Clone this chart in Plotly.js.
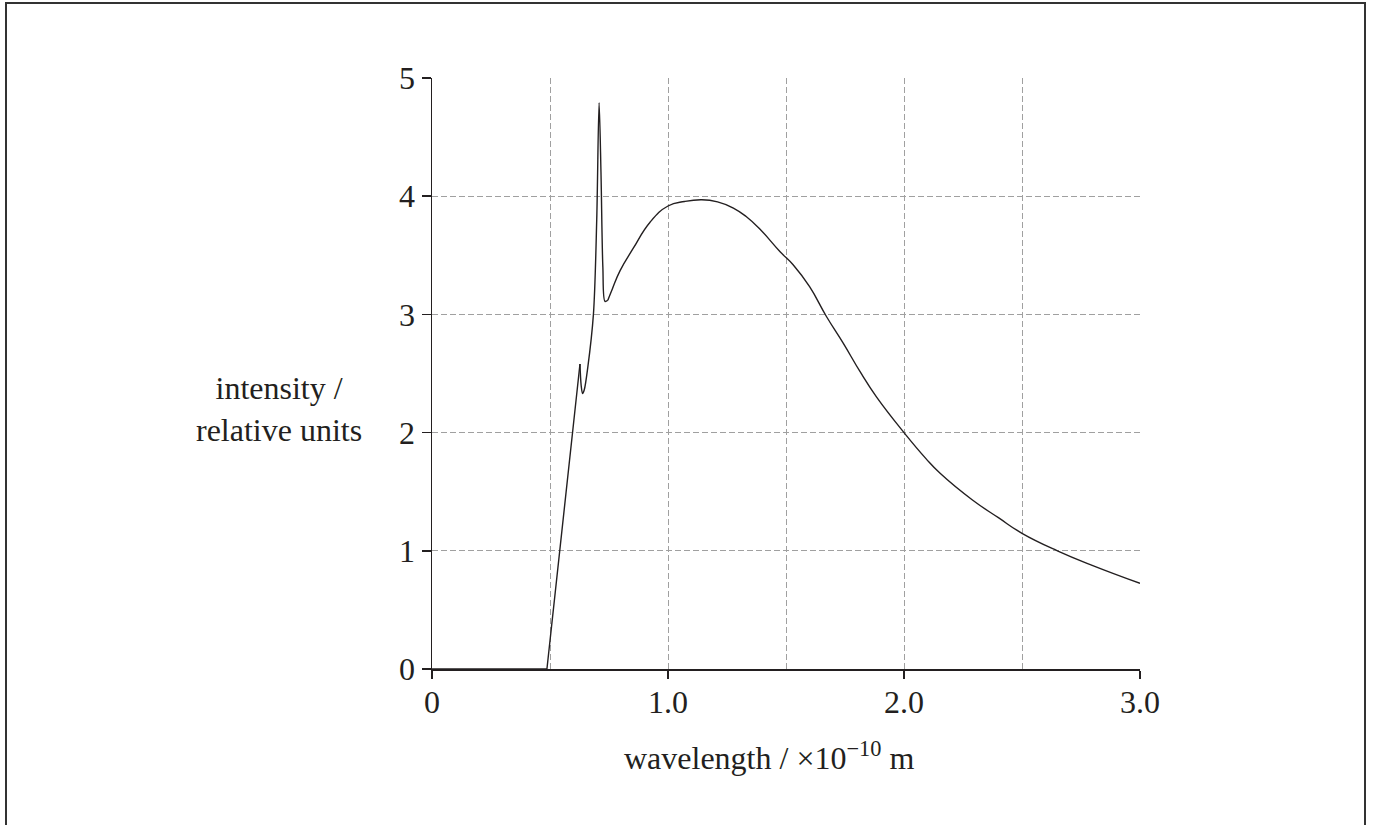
<!DOCTYPE html>
<html>
<head>
<meta charset="utf-8">
<script src="https://cdn.plot.ly/plotly-3.0.1.min.js"></script>
<style>
  html, body { margin: 0; padding: 0; background: #fff; overflow: hidden; }
  #frame { position: absolute; left: 5px; top: 2px; width: 1357px; height: 900px;
           border-left: 2px solid #333; border-top: 2px solid #333; border-right: 2px solid #333; }
  #chart { position: absolute; left: 0; top: 0; width: 1373px; height: 825px; }
</style>
</head>
<body>
<div id="frame"></div>
<div id="chart"></div>
<script>
// Straight part: zero baseline and the linear rise (x 10^-10 m, relative units)
const riseWavelength = [0, 0.487, 0.627];
const riseIntensity  = [0, 0, 2.58];
// Characteristic lines (spiky part)
const lineWavelength = [0.627, 0.632, 0.638, 0.645, 0.66, 0.684, 0.698, 0.708, 0.716, 0.724, 0.733, 0.745];
const lineIntensity  = [2.58, 2.40, 2.33, 2.36, 2.55, 3.0, 3.8, 4.79, 4.2, 3.4, 3.11, 3.12];
// Continuous spectrum
const curveWavelength = [0.745, 0.765, 0.797, 0.853, 0.924, 1.0, 1.07, 1.143, 1.21, 1.277, 1.33, 1.39, 1.475, 1.531, 1.6, 1.672, 1.743, 1.814, 1.884, 2.0, 2.093, 2.153, 2.29, 2.40, 2.5, 2.65, 2.80, 3.0];
const curveIntensity  = [3.12, 3.22, 3.37, 3.56, 3.78, 3.917, 3.955, 3.97, 3.952, 3.90, 3.83, 3.72, 3.53, 3.418, 3.234, 2.98, 2.755, 2.515, 2.30, 2.0, 1.78, 1.656, 1.43, 1.28, 1.148, 1.0, 0.875, 0.725];
const xTickVals = [0, 1, 2, 3];
const xTickText = ["0", "1.0", "2.0", "3.0"];
const yTickVals = [0, 1, 2, 3, 4, 5];

const font = {family: "Liberation Serif, Times New Roman, serif", size: 32, color: "#231f20"};
const gridDash = "6px,3px";
const ink = "#231f20";

const traces = [
  {x: riseWavelength, y: riseIntensity, type: "scatter", mode: "lines",
   line: {color: ink, width: 1.4, shape: "linear"}, hoverinfo: "skip"},
  {x: lineWavelength, y: lineIntensity, type: "scatter", mode: "lines",
   line: {color: ink, width: 1.4, shape: "spline", smoothing: 0.9}, hoverinfo: "skip"},
  {x: curveWavelength, y: curveIntensity, type: "scatter", mode: "lines",
   line: {color: ink, width: 1.4, shape: "spline", smoothing: 1.3}, hoverinfo: "skip"}
];

const layout = {
  width: 1373, height: 825,
  margin: {l: 432, r: 233, t: 78, b: 156},
  paper_bgcolor: "rgba(0,0,0,0)", plot_bgcolor: "rgba(0,0,0,0)",
  showlegend: false,
  font: font,
  xaxis: {
    range: [0, 3], tickvals: xTickVals, ticktext: xTickText,
    ticks: "outside", ticklen: 8, tickwidth: 1.5, tickcolor: ink,
    ticklabelstandoff: -4,
    showline: true, linecolor: ink, linewidth: 1.5,
    showgrid: true, gridcolor: "#a0a0a0", griddash: gridDash, gridwidth: 1,
    zeroline: false,
    minor: {dtick: 0.5, tick0: 0, showgrid: true, gridcolor: "#a0a0a0", griddash: gridDash, gridwidth: 1, ticks: ""},
    tickfont: font,
    fixedrange: true
  },
  yaxis: {
    range: [0, 5], tickvals: yTickVals,
    ticks: "outside", ticklen: 9, tickwidth: 1.5, tickcolor: ink,
    showline: true, linecolor: ink, linewidth: 1.5,
    showgrid: true, gridcolor: "#a0a0a0", griddash: gridDash, gridwidth: 1,
    zeroline: false,
    tickfont: font,
    fixedrange: true
  },
  annotations: [
    {xref: "paper", yref: "paper", x: -0.2154, y: 0.44,
     xanchor: "center", yanchor: "middle",
     text: "intensity /<br>relative units", showarrow: false,
     font: font, align: "center"},
    {xref: "paper", yref: "paper", x: 0.476, y: -0.147,
     xanchor: "center", yanchor: "middle",
     text: "wavelength / ×10<sup>−10</sup> m", showarrow: false,
     font: font, align: "center"}
  ]
};

Plotly.newPlot("chart", traces, layout, {displayModeBar: false, staticPlot: true});
</script>
</body>
</html>
